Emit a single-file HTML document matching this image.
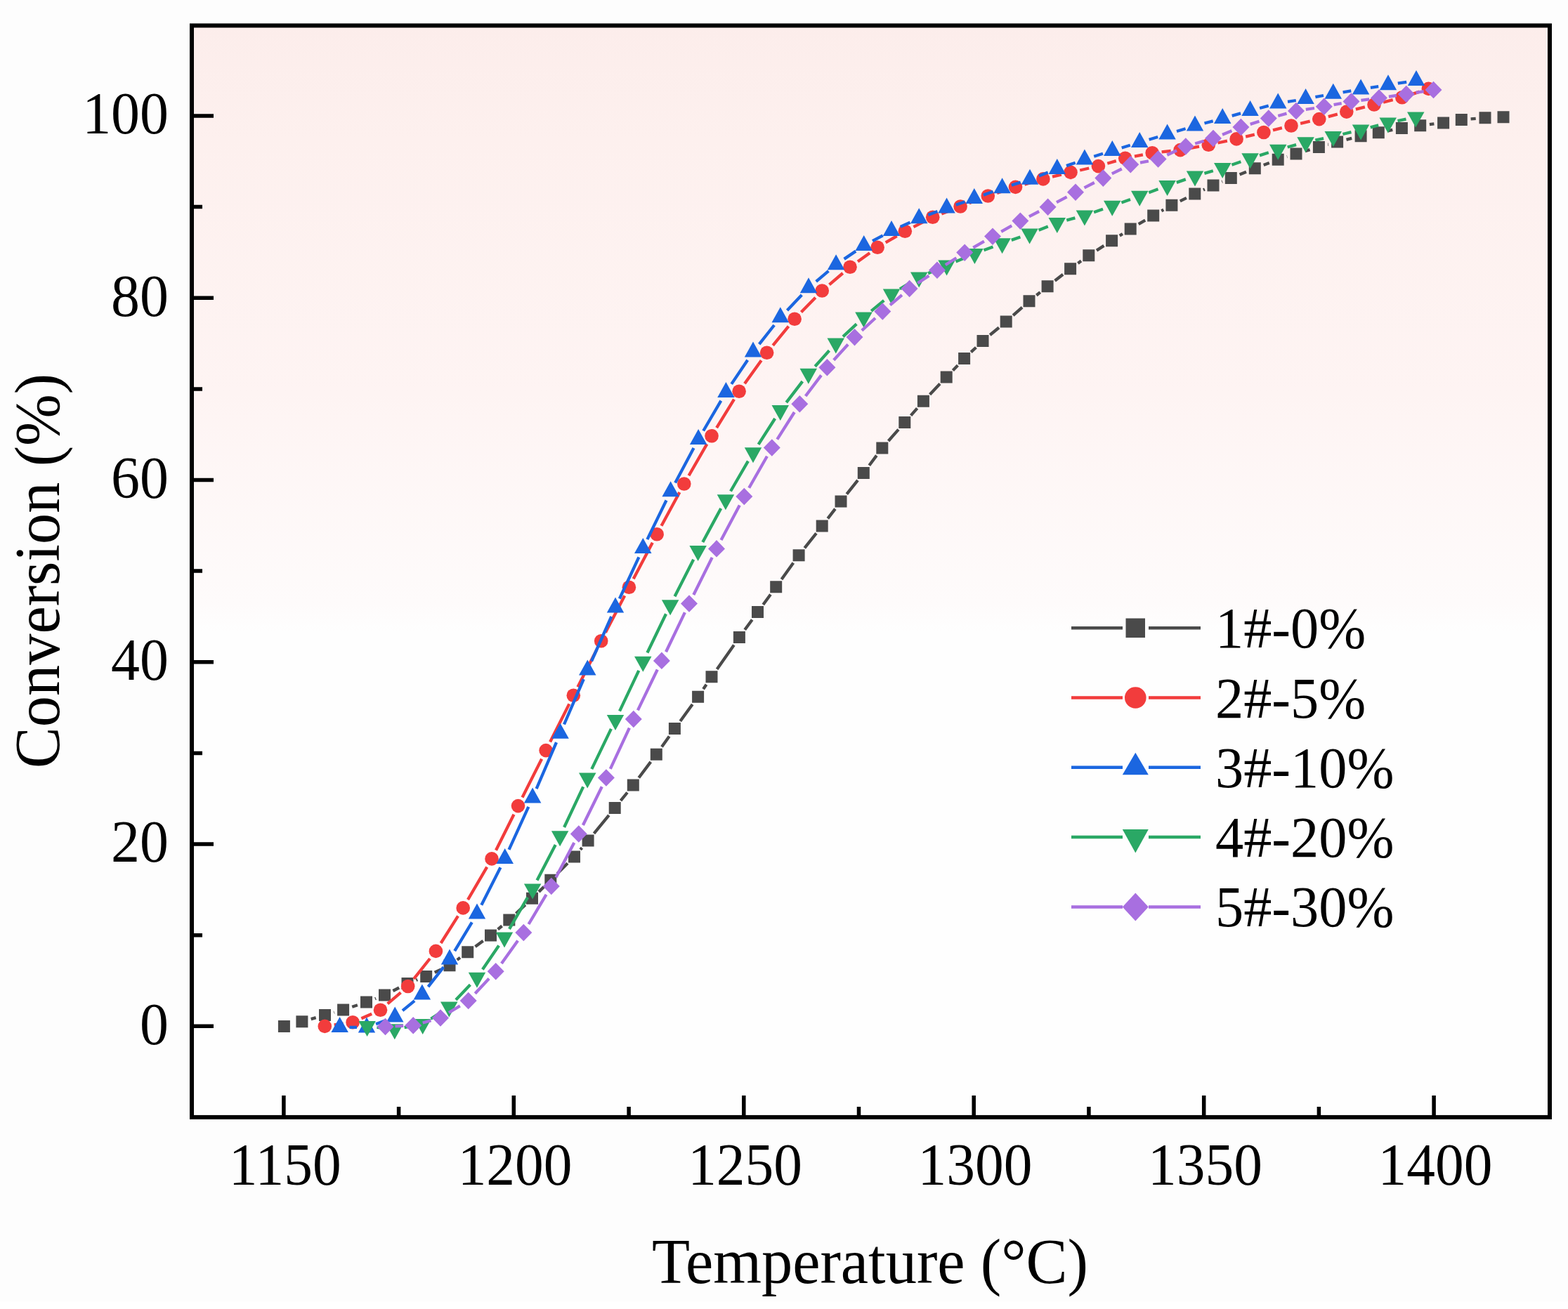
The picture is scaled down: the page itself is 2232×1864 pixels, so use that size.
<!DOCTYPE html>
<html><head><meta charset="utf-8"><title>Conversion vs Temperature</title>
<style>html,body{margin:0;padding:0;background:#fdfdfd;overflow:hidden;}svg{display:block;}</style>
</head><body>
<svg width="2232" height="1864" viewBox="0 0 2232 1864">
<defs><linearGradient id="bg" gradientUnits="userSpaceOnUse" x1="0" y1="36.4" x2="0" y2="1590.9">
<stop offset="0" stop-color="#fcedeb"/>
<stop offset="0.105" stop-color="#fdf0ee"/>
<stop offset="0.337" stop-color="#fef4f3"/>
<stop offset="0.53" stop-color="#fefbfb"/>
<stop offset="0.556" stop-color="#fefefe"/>
<stop offset="1" stop-color="#fefefe"/>
</linearGradient>
<clipPath id="clip"><rect x="273.0" y="36.4" width="1933.0" height="1554.5"/></clipPath></defs>
<rect width="2232" height="1864" fill="#fdfdfd"/>
<rect y="1853" width="2232" height="11" fill="#ffffff"/>
<rect x="273.0" y="36.4" width="1933.0" height="1554.5" fill="url(#bg)"/>
<g clip-path="url(#clip)">
<path d="M442.7 1451.1L449.7 1449.1M475.3 1441.8L475.8 1441.6M501.2 1433.8L508.9 1431.3M533.9 1422.3L535.1 1421.8M559.4 1411.0L568.1 1406.5M592.4 1395.8L594.3 1395.1M618.7 1384.8L628.0 1380.4M650.7 1366.9L655.0 1363.6M676.5 1347.9L687.7 1339.7M708.7 1323.4L714.6 1318.5M734.5 1300.9L747.8 1288.4M767.0 1269.9L774.3 1262.7M793.3 1244.0L808.0 1229.3M826.1 1209.9L828.5 1207.2M845.5 1186.8L866.8 1160.8M883.5 1140.1L893.0 1128.5M909.3 1107.5L926.3 1084.9M942.0 1063.5L952.7 1048.4M968.3 1026.9L985.7 1003.0M1001.1 981.3L1005.5 974.8M1020.6 952.9L1044.8 918.5M1060.2 896.8L1070.7 882.4M1086.3 860.9L1096.9 846.4M1112.5 824.9L1129.3 801.6M1145.3 780.4L1162.0 759.3M1178.3 738.4L1188.9 724.6M1205.3 703.7L1221.0 683.8M1237.3 662.8L1247.8 648.6M1264.6 628.0L1279.0 611.6M1296.6 591.6L1305.6 581.3M1323.6 561.7L1338.0 546.6M1356.4 527.4L1363.4 520.2M1382.2 501.4L1389.4 494.7M1409.2 477.0L1422.0 466.5M1442.1 449.2L1455.1 437.6M1475.4 420.5L1480.7 416.1M1501.6 399.7L1513.1 390.8M1534.4 374.9L1539.0 371.6M1561.0 356.6L1571.4 349.9M1593.8 335.6L1598.0 333.0M1620.7 319.2L1630.2 313.6M1653.3 300.4L1656.3 298.7M1679.8 286.4L1688.9 281.9M1712.9 270.5L1714.9 269.5M1739.3 258.8L1740.0 258.5M1764.6 248.5L1774.0 244.7M1798.7 235.0L1806.8 232.0M1831.9 223.1L1832.3 223.0M1857.8 215.2L1864.6 213.1M1890.2 205.8L1890.8 205.7M1916.5 198.9L1924.2 196.9M1975.4 186.3L1982.3 184.9M2034.9 177.2L2041.4 176.4M2093.6 169.4L2100.7 168.9" stroke="#4a4a4a" stroke-width="4.3" fill="none"/>
<path d="M395.9 1452.9h17v17h-17zM421.4 1446.3h17v17h-17zM454.0 1436.9h17v17h-17zM480.1 1429.5h17v17h-17zM513.0 1418.6h17v17h-17zM539.0 1408.5h17v17h-17zM571.5 1392.0h17v17h-17zM598.2 1381.9h17v17h-17zM631.5 1366.3h17v17h-17zM657.2 1347.2h17v17h-17zM690.0 1323.4h17v17h-17zM716.3 1301.5h17v17h-17zM749.0 1270.8h17v17h-17zM775.3 1244.8h17v17h-17zM809.0 1211.5h17v17h-17zM828.6 1188.6h17v17h-17zM866.7 1142.0h17v17h-17zM892.8 1109.6h17v17h-17zM925.8 1065.8h17v17h-17zM951.9 1029.1h17v17h-17zM985.1 983.8h17v17h-17zM1004.5 955.3h17v17h-17zM1043.9 899.1h17v17h-17zM1070.0 863.1h17v17h-17zM1096.2 827.2h17v17h-17zM1128.6 782.3h17v17h-17zM1161.7 740.4h17v17h-17zM1188.5 705.6h17v17h-17zM1220.8 664.9h17v17h-17zM1247.3 629.5h17v17h-17zM1279.3 593.1h17v17h-17zM1305.9 562.8h17v17h-17zM1338.7 528.5h17v17h-17zM1364.1 502.1h17v17h-17zM1390.5 477.0h17v17h-17zM1423.7 449.5h17v17h-17zM1456.5 420.3h17v17h-17zM1482.6 399.3h17v17h-17zM1515.1 374.2h17v17h-17zM1541.3 355.3h17v17h-17zM1574.1 334.2h17v17h-17zM1600.7 317.4h17v17h-17zM1633.2 298.4h17v17h-17zM1659.4 283.7h17v17h-17zM1692.3 267.6h17v17h-17zM1718.5 255.4h17v17h-17zM1743.8 244.9h17v17h-17zM1777.8 231.3h17v17h-17zM1810.7 218.7h17v17h-17zM1836.5 210.4h17v17h-17zM1868.9 200.9h17v17h-17zM1895.1 193.6h17v17h-17zM1928.6 185.2h17v17h-17zM1953.8 180.3h17v17h-17zM1986.9 173.9h17v17h-17zM2013.2 170.2h17v17h-17zM2046.1 166.4h17v17h-17zM2071.8 162.0h17v17h-17zM2105.5 159.3h17v17h-17zM2131.5 158.2h17v17h-17z" fill="#4a4a4a"/>
<path d="M475.7 1459.5L488.7 1457.7M514.4 1450.3L529.2 1443.7M551.7 1429.4L570.5 1413.3M589.1 1393.9L612.0 1365.0M627.6 1343.0L652.0 1304.3M666.0 1281.2L693.2 1234.6M706.0 1210.8L731.5 1159.7M743.5 1135.5L771.1 1080.7M783.1 1056.5L810.3 1002.4M822.4 978.3L849.6 924.8M861.9 900.8L889.2 848.3M901.7 824.3L928.8 772.7M941.5 748.8L967.4 700.9M980.5 677.3L1006.3 632.4M1020.1 609.2L1045.0 568.7M1060.0 546.2L1083.7 513.2M1100.2 491.8L1122.5 464.7M1140.5 444.6L1160.8 423.7M1180.5 405.3L1199.7 389.0M1221.0 372.4L1238.1 360.2M1260.7 345.4L1276.7 336.1M1300.4 323.1L1315.6 315.4M1340.3 304.4L1354.5 298.9M1379.7 289.2L1393.7 283.8M1419.2 274.9L1432.6 270.5M1458.5 262.6L1471.9 258.7M1498.0 251.7L1510.9 248.6M1537.2 242.5L1550.2 239.5M1576.3 232.8L1588.8 229.1M1615.0 222.7L1626.9 220.4M1653.6 216.4L1666.7 215.0M1693.4 211.2L1707.0 208.7M1733.5 203.5L1746.9 200.7M1773.2 194.7L1785.8 191.7M1812.0 185.3L1824.9 182.2M1851.1 175.9L1864.7 172.7M1890.8 166.1L1903.8 162.6M1929.9 155.7L1942.9 152.4M1969.1 145.6L1982.7 142.2M2008.6 134.6L2020.6 130.6" stroke="#f23c3c" stroke-width="4.3" fill="none"/>
<circle cx="462.3" cy="1461.4" r="9.8" fill="#f23c3c"/><circle cx="502.1" cy="1455.8" r="9.8" fill="#f23c3c"/><circle cx="541.5" cy="1438.2" r="9.8" fill="#f23c3c"/><circle cx="580.7" cy="1404.5" r="9.8" fill="#f23c3c"/><circle cx="620.4" cy="1354.4" r="9.8" fill="#f23c3c"/><circle cx="659.2" cy="1292.9" r="9.8" fill="#f23c3c"/><circle cx="700.0" cy="1222.9" r="9.8" fill="#f23c3c"/><circle cx="737.5" cy="1147.6" r="9.8" fill="#f23c3c"/><circle cx="777.1" cy="1068.6" r="9.8" fill="#f23c3c"/><circle cx="816.3" cy="990.3" r="9.8" fill="#f23c3c"/><circle cx="855.7" cy="912.8" r="9.8" fill="#f23c3c"/><circle cx="895.4" cy="836.3" r="9.8" fill="#f23c3c"/><circle cx="935.1" cy="760.7" r="9.8" fill="#f23c3c"/><circle cx="973.8" cy="689.0" r="9.8" fill="#f23c3c"/><circle cx="1013.0" cy="620.7" r="9.8" fill="#f23c3c"/><circle cx="1052.1" cy="557.2" r="9.8" fill="#f23c3c"/><circle cx="1091.6" cy="502.2" r="9.8" fill="#f23c3c"/><circle cx="1131.1" cy="454.3" r="9.8" fill="#f23c3c"/><circle cx="1170.2" cy="414.0" r="9.8" fill="#f23c3c"/><circle cx="1210.0" cy="380.3" r="9.8" fill="#f23c3c"/><circle cx="1249.1" cy="352.3" r="9.8" fill="#f23c3c"/><circle cx="1288.3" cy="329.2" r="9.8" fill="#f23c3c"/><circle cx="1327.7" cy="309.3" r="9.8" fill="#f23c3c"/><circle cx="1367.1" cy="294.0" r="9.8" fill="#f23c3c"/><circle cx="1406.3" cy="279.0" r="9.8" fill="#f23c3c"/><circle cx="1445.5" cy="266.4" r="9.8" fill="#f23c3c"/><circle cx="1484.9" cy="254.9" r="9.8" fill="#f23c3c"/><circle cx="1524.0" cy="245.4" r="9.8" fill="#f23c3c"/><circle cx="1563.4" cy="236.6" r="9.8" fill="#f23c3c"/><circle cx="1601.7" cy="225.3" r="9.8" fill="#f23c3c"/><circle cx="1640.2" cy="217.8" r="9.8" fill="#f23c3c"/><circle cx="1680.1" cy="213.6" r="9.8" fill="#f23c3c"/><circle cx="1720.3" cy="206.3" r="9.8" fill="#f23c3c"/><circle cx="1760.1" cy="197.9" r="9.8" fill="#f23c3c"/><circle cx="1798.9" cy="188.5" r="9.8" fill="#f23c3c"/><circle cx="1838.0" cy="179.0" r="9.8" fill="#f23c3c"/><circle cx="1877.8" cy="169.6" r="9.8" fill="#f23c3c"/><circle cx="1916.8" cy="159.1" r="9.8" fill="#f23c3c"/><circle cx="1956.0" cy="149.0" r="9.8" fill="#f23c3c"/><circle cx="1995.8" cy="138.8" r="9.8" fill="#f23c3c"/><circle cx="2033.4" cy="126.4" r="9.8" fill="#f23c3c"/>
<path d="M497.6 1462.8L508.0 1462.9M535.1 1458.2L549.1 1453.0M573.0 1439.2L590.1 1425.1M609.5 1405.1L631.4 1377.1M647.2 1354.1L671.8 1313.3M685.3 1288.8L712.4 1235.2M724.5 1209.9L752.3 1148.8M763.6 1123.2L792.0 1057.2M803.0 1031.5L830.8 967.1M842.0 941.5L870.3 878.0M881.9 852.5L909.4 793.4M921.4 768.1L948.5 712.5M961.2 687.5L987.5 637.9M1001.2 613.5L1026.3 570.6M1041.2 546.9L1064.2 512.7M1080.7 490.1L1102.1 463.0M1120.5 441.9L1141.3 420.1M1161.7 400.9L1179.4 385.9M1201.6 368.9L1218.2 357.6M1242.0 343.1L1256.7 335.3M1281.7 322.9L1295.5 316.7M1321.3 306.0L1334.5 301.1M1360.8 291.7L1373.6 287.3M1399.9 277.8L1413.5 272.8M1439.9 263.7L1452.7 259.6M1479.1 250.4L1491.7 245.6M1518.0 236.1L1530.7 231.7M1557.2 222.8L1570.0 218.8M1596.7 210.5L1608.8 206.8M1635.6 198.7L1648.2 195.0M1675.0 187.0L1687.6 183.2M1714.5 175.5L1726.7 172.3M1753.7 164.9L1766.1 161.4M1793.1 154.0L1805.7 150.7M1833.0 144.9L1844.8 143.0M1872.4 138.2L1884.0 136.0M1911.6 131.3L1923.3 129.4M1950.9 124.9L1962.2 123.1M1989.8 118.7L2002.2 116.8" stroke="#1b66e0" stroke-width="4.3" fill="none"/>
<path d="M483.6 1448.0L495.9 1470.0L471.4 1470.0zM522.0 1448.4L534.2 1470.4L509.8 1470.4zM562.2 1433.4L574.5 1455.4L550.0 1455.4zM600.9 1401.5L613.1 1423.5L588.6 1423.5zM640.0 1351.4L652.2 1373.4L627.8 1373.4zM679.0 1286.6L691.2 1308.6L666.8 1308.6zM718.7 1208.0L731.0 1230.0L706.5 1230.0zM758.1 1121.4L770.4 1143.4L745.9 1143.4zM797.5 1029.7L809.8 1051.7L785.2 1051.7zM836.3 939.6L848.5 961.6L824.0 961.6zM876.0 850.5L888.2 872.5L863.8 872.5zM915.3 766.0L927.5 788.0L903.0 788.0zM954.6 685.2L966.9 707.2L942.4 707.2zM994.1 610.9L1006.4 632.9L981.9 632.9zM1033.4 543.9L1045.7 565.9L1021.2 565.9zM1072.0 486.4L1084.2 508.4L1059.8 508.4zM1110.8 437.3L1123.0 459.3L1098.5 459.3zM1151.0 395.3L1163.2 417.3L1138.8 417.3zM1190.1 362.2L1202.3 384.2L1177.8 384.2zM1229.7 335.0L1242.0 357.0L1217.5 357.0zM1269.0 314.0L1281.2 336.0L1256.8 336.0zM1308.2 296.2L1320.5 318.2L1296.0 318.2zM1347.6 281.6L1359.8 303.6L1335.3 303.6zM1386.8 268.0L1399.0 290.0L1374.5 290.0zM1426.6 253.3L1438.8 275.3L1414.3 275.3zM1466.0 240.7L1478.2 262.7L1453.8 262.7zM1504.8 226.0L1517.0 248.0L1492.5 248.0zM1543.9 212.4L1556.2 234.4L1531.7 234.4zM1583.3 199.9L1595.5 221.9L1571.0 221.9zM1622.2 188.0L1634.5 210.0L1610.0 210.0zM1661.6 176.4L1673.8 198.4L1649.3 198.4zM1701.0 164.5L1713.2 186.5L1688.8 186.5zM1740.2 154.0L1752.5 176.0L1728.0 176.0zM1779.6 142.9L1791.8 164.9L1767.3 164.9zM1819.2 132.4L1831.5 154.4L1807.0 154.4zM1858.6 126.1L1870.8 148.1L1846.3 148.1zM1897.8 118.8L1910.0 140.8L1885.5 140.8zM1937.1 112.5L1949.3 134.5L1924.8 134.5zM1976.0 106.2L1988.2 128.2L1963.8 128.2zM2016.0 100.0L2028.2 122.0L2003.8 122.0z" fill="#1b66e0"/>
<path d="M536.5 1462.9L547.9 1464.1M575.6 1463.1L587.9 1460.9M613.4 1450.7L627.6 1441.5M648.9 1423.7L669.4 1402.2M686.9 1380.5L710.1 1346.5M725.0 1322.8L751.1 1277.9M764.5 1253.4L790.7 1203.1M803.1 1178.0L830.2 1120.4M842.3 1095.1L869.9 1037.9M882.0 1012.7L909.3 954.8M921.4 929.5L948.0 874.2M960.5 849.2L987.2 796.8M1000.3 772.0L1026.2 723.9M1040.0 699.5L1064.9 656.7M1079.6 632.9L1103.2 596.0M1119.3 573.1L1142.3 543.1M1160.2 521.7L1180.4 499.3M1200.0 479.4L1219.3 461.4M1240.2 442.9L1258.3 427.8M1280.9 411.5L1296.3 402.1M1321.1 389.2L1334.7 383.4M1360.5 372.5L1374.5 366.7M1400.5 356.3L1413.5 351.4M1439.8 341.9L1452.4 337.5M1478.6 327.7L1491.8 322.4M1518.3 313.6L1530.4 310.4M1557.1 302.2L1570.0 297.7M1596.4 288.4L1609.0 283.9M1635.3 274.2L1648.5 269.3M1674.8 259.9L1687.8 255.4M1714.4 246.9L1726.8 243.3M1753.4 234.7L1766.4 230.2M1793.0 221.4L1805.8 217.3M1832.7 209.5L1845.1 206.2M1872.3 199.7L1884.1 197.2M1911.4 191.0L1923.5 188.1M1950.7 181.4L1962.2 178.4M1989.5 172.1L2001.5 169.7" stroke="#2aa865" stroke-width="4.3" fill="none"/>
<path d="M522.6 1476.0L534.9 1454.0L510.4 1454.0zM561.8 1480.3L574.0 1458.3L549.5 1458.3zM601.7 1473.0L614.0 1451.0L589.5 1451.0zM639.3 1448.5L651.5 1426.5L627.0 1426.5zM679.0 1406.7L691.2 1384.7L666.8 1384.7zM718.0 1349.6L730.2 1327.6L705.8 1327.6zM758.1 1280.5L770.4 1258.5L745.9 1258.5zM797.1 1205.3L809.4 1183.3L784.9 1183.3zM836.2 1122.4L848.5 1100.4L824.0 1100.4zM876.0 1040.0L888.2 1018.0L863.8 1018.0zM915.3 956.8L927.5 934.8L903.0 934.8zM954.1 876.3L966.4 854.3L941.9 854.3zM993.6 799.0L1005.9 777.0L981.4 777.0zM1032.9 726.3L1045.2 704.3L1020.7 704.3zM1072.0 659.3L1084.2 637.3L1059.8 637.3zM1110.8 598.9L1123.0 576.9L1098.5 576.9zM1150.8 546.7L1163.0 524.7L1138.5 524.7zM1189.8 503.6L1202.0 481.6L1177.5 481.6zM1229.5 466.5L1241.8 444.5L1217.2 444.5zM1269.0 433.5L1281.2 411.5L1256.8 411.5zM1308.2 409.4L1320.5 387.4L1296.0 387.4zM1347.6 392.6L1359.8 370.6L1335.3 370.6zM1387.4 375.9L1399.7 353.9L1375.2 353.9zM1426.6 361.2L1438.8 339.2L1414.3 339.2zM1465.6 347.6L1477.8 325.6L1453.3 325.6zM1504.8 331.9L1517.0 309.9L1492.5 309.9zM1543.9 321.4L1556.2 299.4L1531.7 299.4zM1583.2 307.8L1595.5 285.8L1571.0 285.8zM1622.2 293.8L1634.5 271.8L1610.0 271.8zM1661.6 279.1L1673.8 257.1L1649.3 257.1zM1701.0 265.5L1713.2 243.5L1688.8 243.5zM1740.2 254.0L1752.5 232.0L1728.0 232.0zM1779.6 240.3L1791.8 218.3L1767.3 218.3zM1819.2 227.8L1831.5 205.8L1807.0 205.8zM1858.6 217.3L1870.8 195.3L1846.3 195.3zM1897.8 208.9L1910.0 186.9L1885.5 186.9zM1937.1 199.5L1949.3 177.5L1924.8 177.5zM1975.8 189.6L1988.0 167.6L1963.5 167.6zM2015.2 181.5L2027.5 159.5L2003.0 159.5z" fill="#2aa865"/>
<path d="M562.5 1461.4L574.2 1460.9M601.7 1456.5L613.5 1453.2M638.9 1442.0L654.8 1432.3M676.3 1414.7L696.1 1393.5M713.9 1371.9L737.1 1339.4M752.5 1316.0L777.6 1273.9M791.3 1249.5L817.3 1200.0M829.9 1175.0L856.8 1120.2M868.8 1094.9L895.9 1036.7M907.9 1011.4L935.8 953.5M948.0 928.3L974.9 872.1M987.3 847.0L1013.7 793.9M1026.5 769.0L1052.8 719.4M1066.2 694.8L1091.9 649.7M1106.3 625.7L1130.8 587.0M1146.7 564.0L1169.0 534.4M1186.8 512.8L1207.1 490.5M1226.8 470.6L1246.0 453.0M1267.0 434.4L1283.9 420.1M1306.3 403.2L1322.3 392.6M1345.8 377.2L1361.4 367.2M1385.3 352.6L1400.9 343.6M1425.2 329.8L1440.2 321.4M1464.9 308.3L1479.1 301.0M1504.0 288.1L1518.6 280.3M1543.5 267.3L1557.8 260.0M1582.8 247.4L1596.8 240.5M1623.0 231.6L1634.9 229.3M1661.3 220.7L1675.1 214.3M1701.2 204.5L1713.6 200.8M1740.0 191.7L1753.4 186.3M1779.7 176.9L1792.5 172.8M1819.3 165.0L1831.5 161.7M1858.8 155.9L1871.0 154.0M1898.6 149.2L1909.7 147.1M1937.4 142.8L1949.1 141.3M1976.9 137.6L1987.9 136.0M2015.6 131.8L2026.7 130.1" stroke="#a86fe0" stroke-width="4.3" fill="none"/>
<path d="M548.5 1449.8L560.5 1462.0L548.5 1474.2L536.5 1462.0zM588.2 1448.0L600.2 1460.3L588.2 1472.5L576.2 1460.3zM627.0 1437.2L639.0 1449.4L627.0 1461.7L615.0 1449.4zM666.7 1412.7L678.7 1424.9L666.7 1437.2L654.7 1424.9zM705.7 1371.0L717.7 1383.3L705.7 1395.5L693.7 1383.3zM745.3 1315.8L757.3 1328.0L745.3 1340.2L733.3 1328.0zM784.8 1249.7L796.8 1261.9L784.8 1274.2L772.8 1261.9zM823.8 1175.3L835.8 1187.6L823.8 1199.8L811.8 1187.6zM862.9 1095.3L874.9 1107.6L862.9 1119.8L850.9 1107.6zM901.8 1011.8L913.8 1024.0L901.8 1036.2L889.8 1024.0zM941.9 928.6L953.9 940.9L941.9 953.1L929.9 940.9zM981.0 847.2L993.0 859.5L981.0 871.8L969.0 859.5zM1020.0 769.1L1032.0 781.4L1020.0 793.6L1008.0 781.4zM1059.3 694.8L1071.3 707.0L1059.3 719.2L1047.3 707.0zM1098.8 625.2L1110.8 637.5L1098.8 649.8L1086.8 637.5zM1138.3 563.0L1150.3 575.2L1138.3 587.5L1126.3 575.2zM1177.4 511.0L1189.4 523.2L1177.4 535.5L1165.4 523.2zM1216.5 467.9L1228.5 480.1L1216.5 492.4L1204.5 480.1zM1256.3 431.2L1268.3 443.5L1256.3 455.8L1244.3 443.5zM1294.6 398.8L1306.6 411.0L1294.6 423.2L1282.6 411.0zM1334.0 372.6L1346.0 384.8L1334.0 397.1L1322.0 384.8zM1373.2 347.4L1385.2 359.6L1373.2 371.9L1361.2 359.6zM1413.0 324.4L1425.0 336.6L1413.0 348.9L1401.0 336.6zM1452.4 302.4L1464.4 314.6L1452.4 326.9L1440.4 314.6zM1491.6 282.4L1503.6 294.7L1491.6 306.9L1479.6 294.7zM1531.0 261.4L1543.0 273.7L1531.0 285.9L1519.0 273.7zM1570.3 241.3L1582.3 253.6L1570.3 265.9L1558.3 253.6zM1609.3 222.1L1621.3 234.3L1609.3 246.6L1597.3 234.3zM1648.6 214.3L1660.6 226.6L1648.6 238.8L1636.6 226.6zM1687.8 196.2L1699.8 208.4L1687.8 220.7L1675.8 208.4zM1727.0 184.7L1739.0 196.9L1727.0 209.2L1715.0 196.9zM1766.4 168.8L1778.4 181.1L1766.4 193.3L1754.4 181.1zM1805.8 156.3L1817.8 168.6L1805.8 180.8L1793.8 168.6zM1845.0 145.8L1857.0 158.1L1845.0 170.3L1833.0 158.1zM1884.8 139.6L1896.8 151.8L1884.8 164.1L1872.8 151.8zM1923.5 132.2L1935.5 144.5L1923.5 156.8L1911.5 144.5zM1963.0 127.3L1975.0 139.6L1963.0 151.8L1951.0 139.6zM2001.8 121.8L2013.8 134.0L2001.8 146.2L1989.8 134.0zM2040.5 115.7L2052.5 127.9L2040.5 140.2L2028.5 127.9z" fill="#a86fe0"/>
</g>
<rect x="273.0" y="36.4" width="1933.0" height="1554.5" fill="none" stroke="#000" stroke-width="6.0"/>
<path d="M276.0 1461.3h28M276.0 1331.7h12M276.0 1202.0h28M276.0 1072.4h12M276.0 942.8h28M276.0 813.1h12M276.0 683.5h28M276.0 553.9h12M276.0 424.3h28M276.0 294.6h12M276.0 165.0h28M403.9 1587.9v-28M567.6 1587.9v-12M731.3 1587.9v-28M895.1 1587.9v-12M1058.8 1587.9v-28M1222.5 1587.9v-12M1386.2 1587.9v-28M1549.9 1587.9v-12M1713.7 1587.9v-28M1877.4 1587.9v-12M2041.1 1587.9v-28" stroke="#000" stroke-width="5.5"/>
<text transform="translate(240 1486.6) scale(0.975 1)" font-size="84" text-anchor="end" font-family="'Liberation Serif','Times New Roman',serif">0</text>
<text transform="translate(240 1227.3) scale(0.975 1)" font-size="84" text-anchor="end" font-family="'Liberation Serif','Times New Roman',serif">20</text>
<text transform="translate(240 968.1) scale(0.975 1)" font-size="84" text-anchor="end" font-family="'Liberation Serif','Times New Roman',serif">40</text>
<text transform="translate(240 708.8) scale(0.975 1)" font-size="84" text-anchor="end" font-family="'Liberation Serif','Times New Roman',serif">60</text>
<text transform="translate(240 449.6) scale(0.975 1)" font-size="84" text-anchor="end" font-family="'Liberation Serif','Times New Roman',serif">80</text>
<text transform="translate(240 190.3) scale(0.975 1)" font-size="84" text-anchor="end" font-family="'Liberation Serif','Times New Roman',serif">100</text>
<text transform="translate(405.7 1687) scale(0.97 1)" font-size="84" text-anchor="middle" font-family="'Liberation Serif','Times New Roman',serif">1150</text>
<text transform="translate(733.1 1687) scale(0.97 1)" font-size="84" text-anchor="middle" font-family="'Liberation Serif','Times New Roman',serif">1200</text>
<text transform="translate(1060.6 1687) scale(0.97 1)" font-size="84" text-anchor="middle" font-family="'Liberation Serif','Times New Roman',serif">1250</text>
<text transform="translate(1388.0 1687) scale(0.97 1)" font-size="84" text-anchor="middle" font-family="'Liberation Serif','Times New Roman',serif">1300</text>
<text transform="translate(1715.5 1687) scale(0.97 1)" font-size="84" text-anchor="middle" font-family="'Liberation Serif','Times New Roman',serif">1350</text>
<text transform="translate(2042.9 1687) scale(0.97 1)" font-size="84" text-anchor="middle" font-family="'Liberation Serif','Times New Roman',serif">1400</text>
<text transform="translate(1238.5 1827) scale(0.972 1)" font-size="91" text-anchor="middle" font-family="'Liberation Serif','Times New Roman',serif">Temperature (°C)</text>
<text transform="translate(83.5 813) rotate(-90) scale(0.972 1)" font-size="91" text-anchor="middle" font-family="'Liberation Serif','Times New Roman',serif">Conversion (%)</text>
<path d="M1525 894.2H1598M1635 894.2H1709" stroke="#4a4a4a" stroke-width="4.5" fill="none"/>
<path d="M1602.5 880.5h27.5v27.5h-27.5z" fill="#4a4a4a"/>
<text transform="translate(1730 922.2) scale(0.98 1)" font-size="82" font-family="'Liberation Serif','Times New Roman',serif">1#-0%</text>
<path d="M1525 993.5H1598M1635 993.5H1709" stroke="#f23c3c" stroke-width="4.5" fill="none"/>
<circle cx="1616.3" cy="993.5" r="15.3" fill="#f23c3c"/>
<text transform="translate(1730 1021.5) scale(0.98 1)" font-size="82" font-family="'Liberation Serif','Times New Roman',serif">2#-5%</text>
<path d="M1525 1092.8H1598M1635 1092.8H1709" stroke="#1b66e0" stroke-width="4.5" fill="none"/>
<path d="M1616.3 1071.8L1634.8 1103.3L1597.8 1103.3z" fill="#1b66e0"/>
<text transform="translate(1730 1120.8) scale(0.98 1)" font-size="82" font-family="'Liberation Serif','Times New Roman',serif">3#-10%</text>
<path d="M1525 1192.1H1598M1635 1192.1H1709" stroke="#2aa865" stroke-width="4.5" fill="none"/>
<path d="M1616.3 1214.4L1634.8 1180.9L1597.8 1180.9z" fill="#2aa865"/>
<text transform="translate(1730 1220.1) scale(0.98 1)" font-size="82" font-family="'Liberation Serif','Times New Roman',serif">4#-20%</text>
<path d="M1525 1291.4H1598M1635 1291.4H1709" stroke="#a86fe0" stroke-width="4.5" fill="none"/>
<path d="M1616.3 1271.4L1634.8 1291.4L1616.3 1311.4L1597.8 1291.4z" fill="#a86fe0"/>
<text transform="translate(1730 1319.4) scale(0.98 1)" font-size="82" font-family="'Liberation Serif','Times New Roman',serif">5#-30%</text>
</svg>
</body></html>
